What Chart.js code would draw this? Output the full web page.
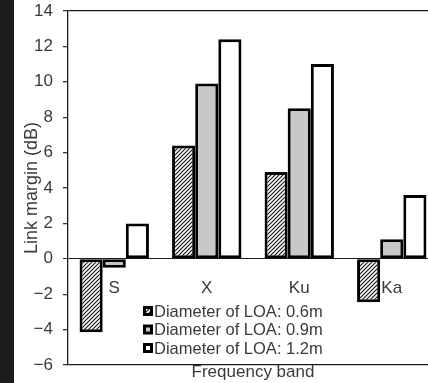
<!DOCTYPE html>
<html>
<head>
<meta charset="utf-8">
<script src="https://cdn.jsdelivr.net/npm/chart.js@4.4.1/dist/chart.umd.min.js"></script>
<style>
  html, body { margin:0; padding:0; width:428px; height:383px; overflow:hidden; background:#1c1c1a; }
  #wrap { position:absolute; left:14px; top:0; width:424px; height:383px; background:#fff; }
</style>
</head>
<body>
<div id="wrap"><canvas id="linkChart" width="424" height="383"></canvas></div>
<script>
/* ---------- data ---------- */
const bands = ["S", "X", "Ku", "Ka"];
const seriesNames = ["Diameter of LOA: 0.6m", "Diameter of LOA: 0.9m", "Diameter of LOA: 1.2m"];
const loa06 = [-4.15, 6.4, 4.9, -2.45];
const loa09 = [-0.5, 9.9, 8.5, 1.1];
const loa12 = [2.0, 12.4, 11.0, 3.6];
const yMin = -6, yMax = 14, yStep = 2;

const FONT = "'Liberation Sans', Arial, sans-serif";
const TXT = "#3a3a3a";

const ctx = document.getElementById("linkChart").getContext("2d");

/* ---------- fills ---------- */
function hatch(){
  const c = document.createElement("canvas");
  c.width = 4; c.height = 4;
  const g = c.getContext("2d");
  g.fillStyle = "#fff"; g.fillRect(0,0,4,4);
  g.strokeStyle = "#111"; g.lineWidth = 1.1;
  g.beginPath();
  g.moveTo(0,4); g.lineTo(4,0);
  g.moveTo(-1,1); g.lineTo(1,-1);
  g.moveTo(3,5); g.lineTo(5,3);
  g.stroke();
  return ctx.createPattern(c, "repeat");
}
const fills = [hatch(), "#c8c8c8", "#ffffff"];

/* ---------- legend inside plot ---------- */
const boxLegend = {
  id: "boxLegend",
  afterDatasetsDraw(chart){
    const a = chart.chartArea, c = chart.ctx;
    c.save();
    c.font = "16.5px " + FONT;
    c.textBaseline = "middle";
    chart.data.datasets.forEach((ds, i) => {
      const x = a.left + 75, y = a.bottom - 54 + i * 18.5;
      c.fillStyle = "#000";
      c.fillRect(x, y - 5, 10, 10);
      c.fillStyle = ds.backgroundColor;
      c.fillRect(x + 3, y - 2, 4, 4);
      c.fillStyle = TXT;
      c.fillText(ds.label, x + 11, y + 1);
    });
    c.restore();
  }
};

const chart = new Chart(ctx, {
  type: "bar",
  data: {
    labels: bands,
    datasets: [loa06, loa09, loa12].map((d, i) => ({
      label: seriesNames[i],
      data: d,
      xAxisID: "x",
      backgroundColor: fills[i],
      borderColor: "#000",
      borderWidth: 3,
      borderSkipped: false,
      barPercentage: 1,
      categoryPercentage: 0.75
    }))
  },
  options: {
    responsive: false,
    animation: false,
    devicePixelRatio: 1,
    layout: { padding: { top: 11, right: 0, bottom: 0, left: 0 } },
    plugins: { legend: { display: false }, tooltip: { enabled: false } },
    scales: {
      x: {
        type: "category",
        offset: true,
        grid: { display: false },
        border: { display: false },
        ticks: { display: false },
        title: {
          display: true, text: "Frequency band", color: TXT,
          font: { family: FONT, size: 17 }, padding: { top: 0, bottom: 0 }
        },
        afterFit(s){ s.height = 18; }
      },
      x2: {
        type: "category",
        position: { y: 0 },
        offset: true,
        grid: { display: false, drawTicks: false },
        border: { display: false },
        ticks: { color: TXT, padding: 19, font: { family: FONT, size: 17 } },
        afterFit(s){ s.height = 0; }
      },
      y: {
        min: yMin,
        max: yMax,
        ticks: {
          stepSize: yStep,
          color: TXT,
          padding: 10,
          font: { family: FONT, size: 17 },
          callback: v => v < 0 ? "\u2212" + Math.abs(v) : String(v)
        },
        grid: {
          color: c => [yMin, 0, yMax].includes(c.tick.value) ? "#1a1a1a" : "rgba(0,0,0,0)",
          lineWidth: c => c.tick.value === 0 ? 1 : 1.3,
          tickColor: "#333",
          tickLength: 5
        },
        border: { color: "#1a1a1a", width: 1.3 },
        title: {
          display: true, text: "Link margin (dB)", color: TXT,
          font: { family: FONT, size: 18 }, padding: { top: 7, bottom: 0 }
        },
        afterFit(s){ s.width = 54; s.paddingTop = 0; s.paddingBottom = 0; }
      }
    }
  },
  plugins: [boxLegend]
});
</script>
</body>
</html>
